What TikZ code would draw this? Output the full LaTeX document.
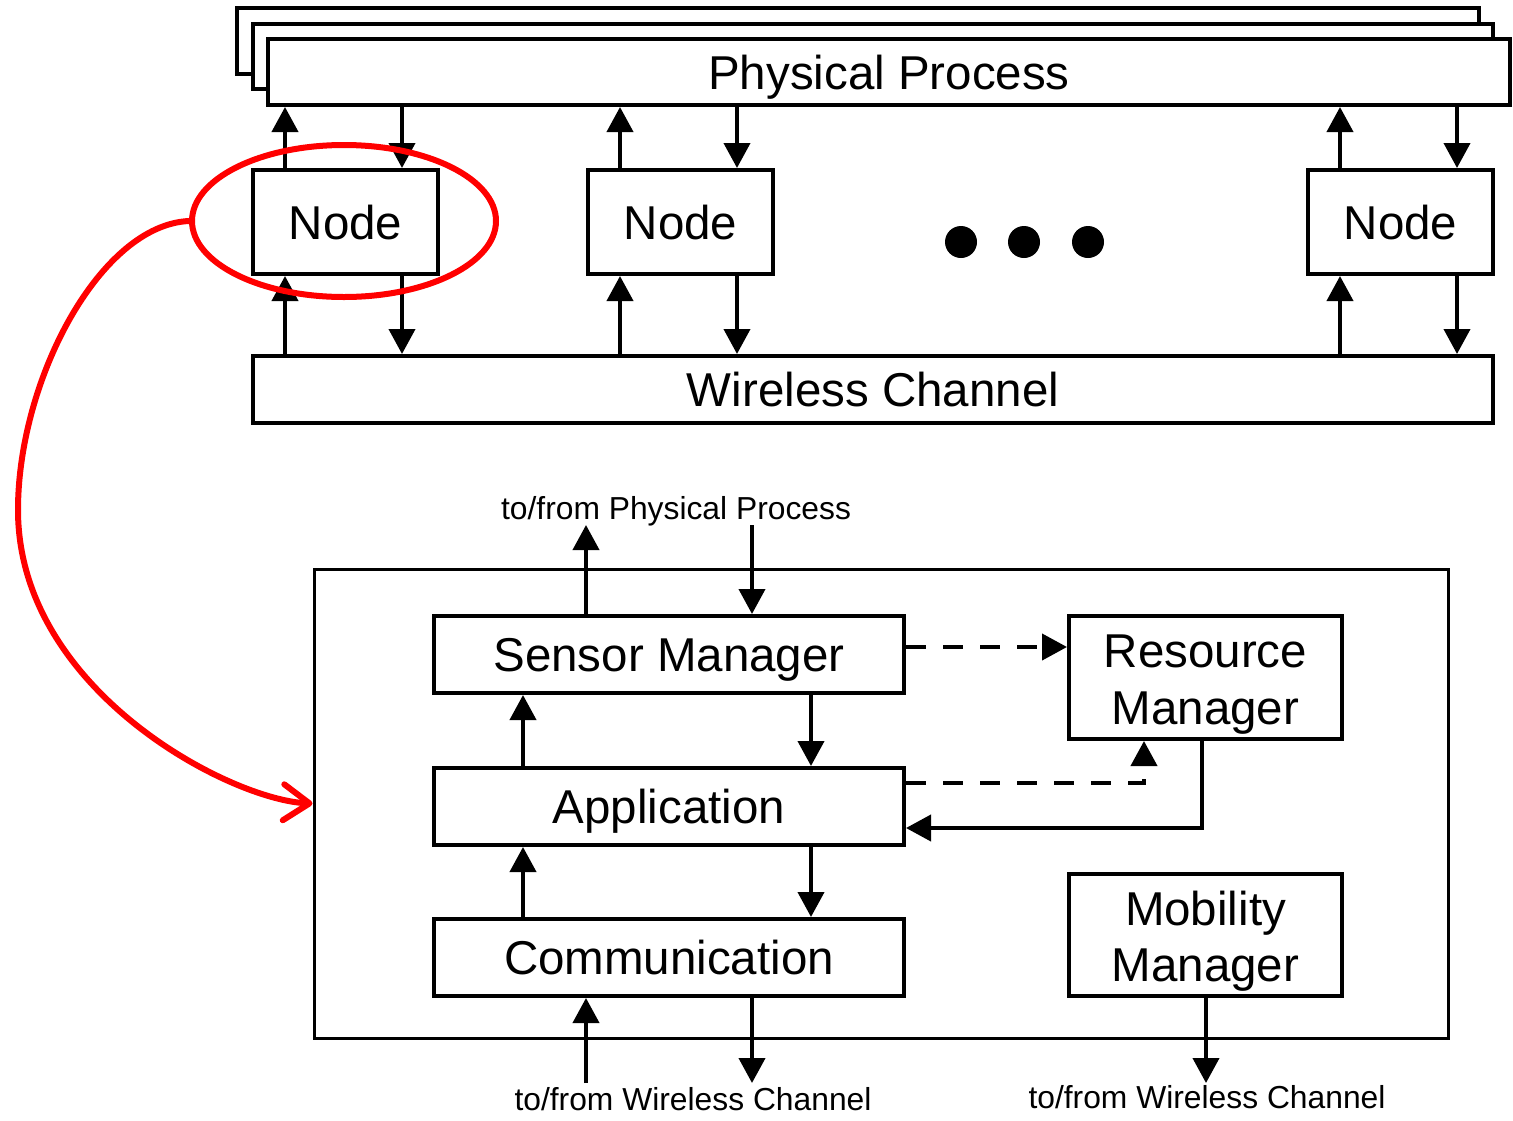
\documentclass[tikz,border=0pt]{standalone}
\usepackage{fontspec}
\setmainfont{Liberation Sans}
\usetikzlibrary{arrows.meta,shapes.geometric}
\begin{document}
\begin{tikzpicture}[x=1pt,y=-1pt,line width=4pt,
  box/.style={draw,line width=4pt,fill=white,inner sep=0pt,text height=34pt,text depth=0pt,font=\fontsize{47.5}{57}\selectfont},
  big/.style={inner sep=0pt,text height=34pt,text depth=0pt,font=\fontsize{47.5}{57}\selectfont},
  small/.style={inner sep=0pt,text height=22.8pt,text depth=0pt,font=\fontsize{31.8}{38}\selectfont},
  arr/.style={-{Triangle[length=25pt,width=26pt]},line width=4pt},
  dsh/.style={dash pattern=on 20pt off 17pt},
  hl/.style={draw=red,line width=6pt},
  dot/.style={circle,fill=black,inner sep=0pt,minimum size=32pt}]
\useasboundingbox (0,0) rectangle (1513,1120);
% physical process stack
\node[box,minimum width=1242pt,minimum height=66pt] (pp3) at (858,41) {};
\node[box,minimum width=1240pt,minimum height=65pt] (pp2) at (873,56.5) {};
\node[box,minimum width=1242pt,minimum height=66pt] (pp) at (889,72) {Physical Process};
% nodes
\node[box,minimum width=185pt,minimum height=104pt] (n1) at (345.5,222) {Node};
\node[box,minimum width=185pt,minimum height=104pt] (n2) at (680.5,222) {Node};
\node[box,minimum width=185pt,minimum height=104pt] (n3) at (1400.5,222) {Node};
\node[dot] (d1) at (961,242) {};
\node[dot] (d2) at (1024,242) {};
\node[dot] (d3) at (1088,242) {};
\node[box,minimum width=1240pt,minimum height=67pt] (wc) at (873,389.5) {Wireless Channel};
% node arrows
\foreach \n in {n1,n2,n3}{
  \draw[arr] ([xshift=34pt]\n.north west) -- ([xshift=34pt]\n.north west |- pp.south);
  \draw[arr] ([xshift=151pt]\n.north west |- pp.south) -- ([xshift=151pt]\n.north west);
  \draw[arr] ([xshift=34pt]\n.south west |- wc.north) -- ([xshift=34pt]\n.south west);
  \draw[arr] ([xshift=151pt]\n.south west) -- ([xshift=151pt]\n.south west |- wc.north);
}
% lower detail
\node[draw,line width=3pt,minimum width=1134pt,minimum height=469pt,inner sep=0pt] (main) at (881,803.5) {};
\node[box,minimum width=470pt,minimum height=77pt] (sm) at (669,654.5) {Sensor Manager};
\node[box,minimum width=470pt,minimum height=77pt] (app) at (669,806.5) {Application};
\node[box,minimum width=470pt,minimum height=77pt] (com) at (669,957.5) {Communication};
\node[box,minimum width=273pt,minimum height=123pt] (rm) at (1205.5,677.5) {};
\node[big] (rm1) at (1205.5,650) {Resource};
\node[big] (rm2) at (1205.5,707) {Manager};
\node[box,minimum width=273pt,minimum height=122pt] (mm) at (1205.5,935) {};
\node[big] (mm1) at (1205.5,908) {Mobility};
\node[big] (mm2) at (1205.5,964) {Manager};
% external labels
\node[small] (tpp) at (676,508) {to/from Physical Process};
\node[small] (twc1) at (693,1099) {to/from Wireless Channel};
\node[small] (twc2) at (1207,1097) {to/from Wireless Channel};
\coordinate (ppup) at (586,525);
\coordinate (ppdn) at (752,525);
\coordinate (wcup) at (586,1083);
\coordinate (wcdn) at (752,1083);
\coordinate (mmout) at (1206,1083);
\draw[arr] (ppup |- sm.north) -- (ppup);
\draw[arr] (ppdn) -- (ppdn |- sm.north);
\draw[arr] ([xshift=91pt]app.north west) -- ([xshift=91pt]app.north west |- sm.south);
\draw[arr] ([xshift=379pt]sm.south west) -- ([xshift=379pt]sm.south west |- app.north);
\draw[arr] ([xshift=91pt]com.north west) -- ([xshift=91pt]com.north west |- app.south);
\draw[arr] ([xshift=379pt]app.south west) -- ([xshift=379pt]app.south west |- com.north);
\draw[arr] (wcup) -- (wcup |- com.south);
\draw[arr] (wcdn |- com.south) -- (wcdn);
\draw[arr] (mmout |- mm.south) -- (mmout);
\draw[arr,dsh] ([yshift=7.5pt]sm.east) -- ([yshift=7.5pt]sm.east -| rm.west);
\draw[arr,dsh] ([yshift=23.5pt]app.east) -| ([xshift=77pt]rm.south west);
\draw[arr] ([xshift=135pt]rm.south west) |- ([yshift=-21.5pt]app.east);
% highlight
\node[ellipse,hl,minimum width=304pt,minimum height=152pt,inner sep=0pt] (sel) at (344,221) {};
\draw[hl,line cap=round,-{Straight Barb[length=26pt,width=36pt,line cap=round,line join=round]}]
  (sel.west) .. controls (100,225) and (18,380) .. (18,510)
  .. controls (18,690) and (230,800) .. (main.west);
\end{tikzpicture}
\end{document}
